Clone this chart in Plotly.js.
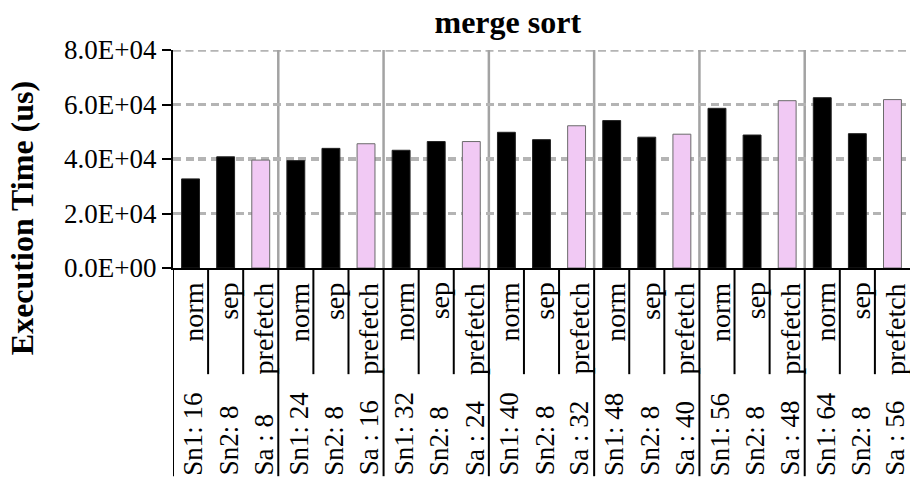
<!DOCTYPE html>
<html>
<head>
<meta charset="utf-8">
<script src="https://cdn.plot.ly/plotly-3.0.1.min.js"></script>
<style>html,body{margin:0;padding:0;background:#fff;}#chart{width:910px;height:480px;}</style>
</head>
<body>
<div id="chart"></div>
<script>
// ---- data ----
const variants = ['norm', 'sep', 'prefetch'];
const sn1 = [16, 24, 32, 40, 48, 56, 64];
const sn2 = [8, 8, 8, 8, 8, 8, 8];
const sa = [8, 16, 24, 32, 40, 48, 56];
const normTimes = [32700, 39400, 43200, 49800, 54100, 58600, 62500];
const sepTimes = [40800, 43900, 46400, 47100, 48000, 48800, 49300];
const prefetchTimes = [39600, 45600, 46400, 52200, 49100, 61400, 61800];
const yTicks = [0, 20000, 40000, 60000, 80000];

// ---- build ----
const FONT = 'Liberation Serif, Times New Roman, serif';
const GRID = '#b4b4b4';
const DASH = '8px,4.5px';
const series = [normTimes, sepTimes, prefetchTimes];
const colorOf = ['#000000', '#000000', '#f1c9f4'];
const lineOf = ['#222222', '#222222', '#6b6b6b'];
const xs = [], ys = [], cols = [], lcols = [];
const annotations = [];
const shapes = [];
const nG = sn1.length;
const yMax = yTicks[yTicks.length - 1];
for (let g = 0; g < nG; g++) {
  const lvl2 = ['Sn1: ' + sn1[g], 'Sn2: ' + sn2[g], 'Sa : ' + sa[g]];
  for (let v = 0; v < variants.length; v++) {
    const i = g * 3 + v;
    xs.push(i); ys.push(series[v][g]); cols.push(colorOf[v]); lcols.push(lineOf[v]);
    annotations.push({
      x: i, xref: 'x', y: -0.058, yref: 'paper', text: variants[v],
      textangle: -90, showarrow: false, xanchor: 'center', yanchor: 'top', xshift: 3,
      font: {family: FONT, size: 28, color: '#000'}
    });
    annotations.push({
      x: i, xref: 'x', y: -0.962, yref: 'paper', text: lvl2[v],
      textangle: -90, showarrow: false, xanchor: 'center', yanchor: 'bottom', xshift: 3,
      font: {family: FONT, size: 27, color: '#000'}
    });
    if (v < variants.length - 1) {
      shapes.push({type: 'line', xref: 'x', yref: 'paper', x0: i + 0.5, x1: i + 0.5, y0: 0, y1: -0.487,
        line: {color: '#000', width: 2}});
    }
  }
  // group separator below axis
  shapes.push({type: 'line', xref: 'x', yref: 'paper', x0: g * 3 - 0.5, x1: g * 3 - 0.5, y0: 0, y1: -0.955,
    line: {color: '#000', width: 2}});
  // group separator in the plot
  if (g > 0) {
    shapes.push({type: 'line', xref: 'x', yref: 'y', x0: g * 3 - 0.5, x1: g * 3 - 0.5, y0: 0, y1: yMax,
      layer: 'below', line: {color: '#a3a3a3', width: 2.5}});
  }
}
// top gridline (plotly omits the grid line at the range edge)
shapes.push({type: 'line', xref: 'paper', yref: 'y', x0: 0, x1: 1, y0: yMax, y1: yMax,
  layer: 'below', line: {color: GRID, width: 3.5, dash: DASH}});

function fmtE(v) {
  const s = v.toExponential(1).toUpperCase();
  const m = s.match(/^([\d.]+)E([+-])(\d+)$/);
  return m[1] + 'E' + m[2] + (m[3].length < 2 ? '0' + m[3] : m[3]);
}

annotations.push({
  x: -0.205, xref: 'paper', y: 0.228, yref: 'paper', text: '<b>Execution Time (us)</b>',
  textangle: -90, showarrow: false, xanchor: 'center', yanchor: 'middle',
  font: {family: FONT, size: 32, color: '#000'}
});

const trace = {
  type: 'bar', x: xs, y: ys,
  marker: {color: cols, line: {color: lcols, width: 1}},
  hoverinfo: 'y'
};

const layout = {
  width: 910, height: 480,
  margin: {l: 173, r: 0, t: 50, b: 212},
  paper_bgcolor: '#fff', plot_bgcolor: '#fff',
  showlegend: false,
  bargap: 0.49,
  font: {family: FONT, color: '#000'},
  title: {text: '<b>merge sort</b>', xref: 'container', x: 0.558, xanchor: 'center',
    yref: 'container', y: 0.955, yanchor: 'middle', font: {family: FONT, size: 32, color: '#000'}},
  xaxis: {range: [-0.5, 20.5], showticklabels: false, ticks: '', showgrid: false, zeroline: false,
    showline: true, linecolor: '#000', linewidth: 2, fixedrange: true},
  yaxis: {range: [0, yMax], tickvals: yTicks, ticktext: yTicks.map(fmtE),
    ticks: 'outside', ticklen: 9, tickwidth: 2, tickcolor: '#000',
    tickfont: {family: FONT, size: 27, color: '#000'},
    showline: true, linecolor: '#000', linewidth: 2, zeroline: false,
    showgrid: true, gridcolor: GRID, gridwidth: 3.5, griddash: DASH, fixedrange: true},
  shapes: shapes,
  annotations: annotations
};

Plotly.newPlot('chart', [trace], layout, {displayModeBar: false, staticPlot: true});
</script>
</body>
</html>
